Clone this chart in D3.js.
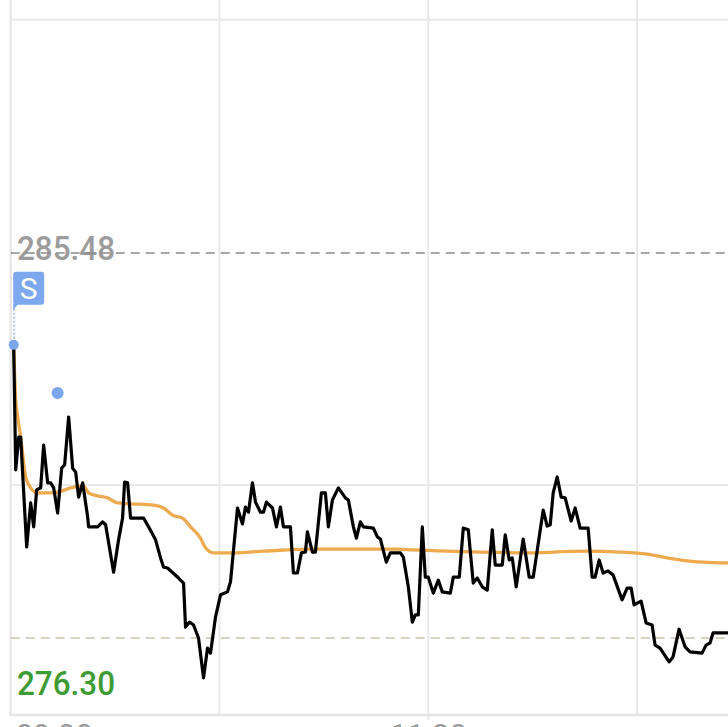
<!DOCTYPE html>
<html>
<head>
<meta charset="utf-8">
<script src="https://cdn.jsdelivr.net/npm/d3@7/dist/d3.min.js"></script>
<style>
  html, body { margin: 0; padding: 0; background: #ffffff; overflow: hidden; }
  svg { display: block; }
</style>
</head>
<body>
<svg id="chart" width="728" height="727"></svg>
<script>
// ---- data ----
// minutes since session open (09:30)
const priceMinutes = [0.86,1.44,2.30,2.87,4.59,5.74,6.60,7.46,8.61,9.47,10.62,11.48,12.34,13.49,14.64,15.50,16.65,17.80,18.66,19.52,20.67,22.11,22.39,24.98,26.41,27.27,29.57,31.00,32.15,32.73,33.59,34.45,38.18,39.62,41.63,43.06,43.92,45.07,48.23,49.67,50.24,51.39,52.54,53.97,55.41,56.56,57.42,58.85,60.29,62.30,63.16,65.17,66.60,67.46,68.33,69.47,70.34,71.77,72.63,73.49,75.22,76.36,77.51,78.37,80.38,81.24,82.39,83.54,84.69,85.26,86.70,87.56,89.28,90.43,91.29,92.44,94.16,96.17,97.03,98.47,99.33,100.48,101.34,104.21,105.36,106.22,107.94,109.09,111.96,112.82,114.26,115.41,116.27,117.13,118.28,119.14,120.00,121.44,122.87,124.02,126.32,127.18,128.90,130.05,131.49,132.92,134.07,135.50,136.94,138.38,139.24,141.25,142.11,143.25,144.12,145.26,147.27,149.00,150.15,153.02,154.17,155.03,155.89,157.04,158.18,159.33,161.05,162.20,163.63,165.93,167.08,167.94,169.09,170.24,171.67,173.11,175.69,177.13,178.28,179.14,181.15,182.59,184.31,185.17,186.60,189.19,190.33,192.06,193.78,195.22,198.66,199.81,200.96,201.82,206.12];
const prices = [283.29,280.31,281.09,281.09,278.47,279.52,278.95,279.83,279.88,280.90,280.00,280.00,279.88,279.28,280.35,280.43,281.57,280.35,280.26,279.66,280.00,279.19,278.95,278.95,279.07,279.00,277.87,278.64,279.16,280.02,280.00,279.16,279.16,278.95,278.64,278.21,277.99,277.97,277.73,277.61,276.56,276.68,276.61,276.30,275.35,276.06,275.94,276.80,277.33,277.40,277.64,279.40,279.02,279.42,279.30,280.00,279.54,279.30,279.30,279.54,279.40,278.95,279.42,278.95,278.95,277.85,277.85,278.33,278.35,278.83,278.35,278.35,279.76,279.76,278.95,279.59,279.88,279.64,279.59,278.95,278.68,279.07,278.95,278.92,278.71,278.66,278.11,278.33,278.33,278.23,277.52,276.68,276.85,276.85,278.95,277.75,277.75,277.37,277.68,277.40,277.37,277.75,277.75,278.92,278.88,277.61,277.73,277.52,277.44,278.88,278.04,278.04,278.76,278.16,278.21,277.52,278.66,277.75,277.75,279.35,278.97,279.00,279.76,280.14,279.66,279.64,279.09,279.40,278.92,278.92,277.75,277.75,278.16,277.85,277.90,277.80,277.21,277.49,277.49,277.09,277.18,276.66,276.61,276.13,276.06,275.73,275.85,276.51,276.09,275.97,275.94,276.13,276.18,276.42,276.42];

const avgMinutes = [0.86,1.44,2.01,2.87,4.31,5.74,7.75,11.48,13.78,17.23,20.96,22.39,24.98,27.85,30.72,34.45,41.05,43.92,46.51,49.38,51.67,54.55,55.98,58.28,64.02,72.63,86.99,101.34,111.10,115.69,125.46,134.93,151.29,155.89,165.65,175.12,182.87,188.61,194.35,198.95,206.12];
const avgPrices = [283.29,281.98,281.57,281.09,280.14,279.88,279.76,279.76,279.78,279.88,279.92,279.76,279.69,279.64,279.52,279.50,279.47,279.40,279.23,279.16,278.95,278.68,278.45,278.33,278.33,278.37,278.42,278.42,278.42,278.40,278.37,278.35,278.33,278.35,278.37,278.35,278.30,278.21,278.14,278.11,278.09];

const signalMinutes = [0.86, 13.49];
const signalPrices = [283.29, 282.14];

const refHigh = 285.48;
const refLow = 276.30;
const gridMinutes = [0, 60, 120, 180];
const gridPrices = [279.95, 291.04];
const timeLabels = ["09:30", "11:30"];
const timeLabelMinutes = [0, 120];

// ---- scales ----
const svg = d3.select("#chart");
const x = d3.scaleLinear().domain([0, 206.12]).range([10.7, 728]);
const y = d3.scaleLinear().domain([refLow, refHigh]).range([638, 253]);
const plotBottom = 715;

const font = "Roboto, 'Noto Sans', sans-serif";

// grid
svg.append("g").selectAll("line").data(gridMinutes).join("line")
  .attr("x1", d => x(d)).attr("x2", d => x(d))
  .attr("y1", 0).attr("y2", d => d === 120 ? plotBottom + 5 : plotBottom)
  .attr("stroke", "#e7e7e7").attr("stroke-width", d => d === 0 ? 2.5 : 1.8);

svg.append("g").selectAll("line").data(gridPrices).join("line")
  .attr("x1", x(0)).attr("x2", 728)
  .attr("y1", d => y(d)).attr("y2", d => y(d))
  .attr("stroke", "#e9e9e9").attr("stroke-width", 2);

svg.append("line")
  .attr("x1", x(0) - 1).attr("x2", 728)
  .attr("y1", plotBottom).attr("y2", plotBottom)
  .attr("stroke", "#e5e5e5").attr("stroke-width", 2.5);

// time labels (clipped by bottom of page, as in the reference)
svg.append("g").selectAll("text").data(timeLabels).join("text")
  .attr("x", (d, i) => i === 0 ? x(timeLabelMinutes[i]) + 5 : x(timeLabelMinutes[i]))
  .attr("y", 746)
  .attr("text-anchor", (d, i) => i === 0 ? "start" : "middle")
  .attr("font-family", font).attr("font-size", 31)
  .attr("fill", "#9a9a9a")
  .text(d => d);

// reference labels
svg.append("text")
  .attr("x", 17).attr("y", y(refHigh) + 6.5)
  .attr("font-family", font).attr("font-size", 34).attr("font-weight", 500)
  .attr("fill", "#9c9c9c")
  .attr("textLength", 98).attr("lengthAdjust", "spacingAndGlyphs")
  .text(refHigh.toFixed(2));

svg.append("text")
  .attr("x", 17).attr("y", 695)
  .attr("font-family", font).attr("font-size", 34).attr("font-weight", 500)
  .attr("fill", "#3e9b33")
  .attr("textLength", 98).attr("lengthAdjust", "spacingAndGlyphs")
  .text(refLow.toFixed(2));

// reference dashed lines
svg.append("line")
  .attr("x1", x(0)).attr("x2", 728)
  .attr("y1", y(refHigh)).attr("y2", y(refHigh))
  .attr("stroke", "#8a8a8a").attr("stroke-width", 1.5)
  .attr("stroke-dasharray", "9,6");

svg.append("line")
  .attr("x1", x(0)).attr("x2", 728)
  .attr("y1", y(refLow)).attr("y2", y(refLow))
  .attr("stroke", "#cbc1ae").attr("stroke-width", 1.5)
  .attr("stroke-dasharray", "9,6");

// average line
const avgData = avgMinutes.map((m, i) => [m, avgPrices[i]]);
svg.append("path")
  .datum(avgData)
  .attr("fill", "none")
  .attr("stroke", "#eeaa4e")
  .attr("stroke-width", 3.3)
  .attr("stroke-linejoin", "round")
  .attr("d", d3.line().x(d => x(d[0])).y(d => y(d[1])).curve(d3.curveMonotoneX));

// price line
const priceData = priceMinutes.map((m, i) => [m, prices[i]]);
svg.append("path")
  .datum(priceData)
  .attr("fill", "none")
  .attr("stroke", "#000000")
  .attr("stroke-width", 3.2)
  .attr("stroke-linejoin", "round")
  .attr("d", d3.line().x(d => x(d[0])).y(d => y(d[1])));

// signal marker "S"
const sx = x(signalMinutes[0]);
const sy = y(signalPrices[0]);
svg.append("line")
  .attr("x1", sx + 0.5).attr("x2", sx + 0.5)
  .attr("y1", sy - 36).attr("y2", sy - 4)
  .attr("stroke", "#a9c4f2").attr("stroke-width", 2)
  .attr("stroke-dasharray", "2,2");
svg.append("path")
  .attr("d", `M${sx - 0.5},${sy - 41} L${sx + 5},${sy - 41} L${sx - 0.5},${sy - 35} Z`)
  .attr("fill", "#7ea8ee");
svg.append("rect")
  .attr("x", sx - 0.5).attr("y", sy - 73)
  .attr("width", 31).attr("height", 33).attr("rx", 3)
  .attr("fill", "#7ea8ee");
svg.append("text")
  .attr("x", sx + 15).attr("y", sy - 45.5)
  .attr("text-anchor", "middle")
  .attr("font-family", font).attr("font-size", 30)
  .attr("fill", "#ffffff")
  .text("S");

// signal dots
svg.append("g").selectAll("circle").data(signalMinutes).join("circle")
  .attr("cx", d => x(d))
  .attr("cy", (d, i) => y(signalPrices[i]))
  .attr("r", (d, i) => i === 0 ? 5 : 6)
  .attr("fill", "#7aa6ee");
</script>
</body>
</html>
